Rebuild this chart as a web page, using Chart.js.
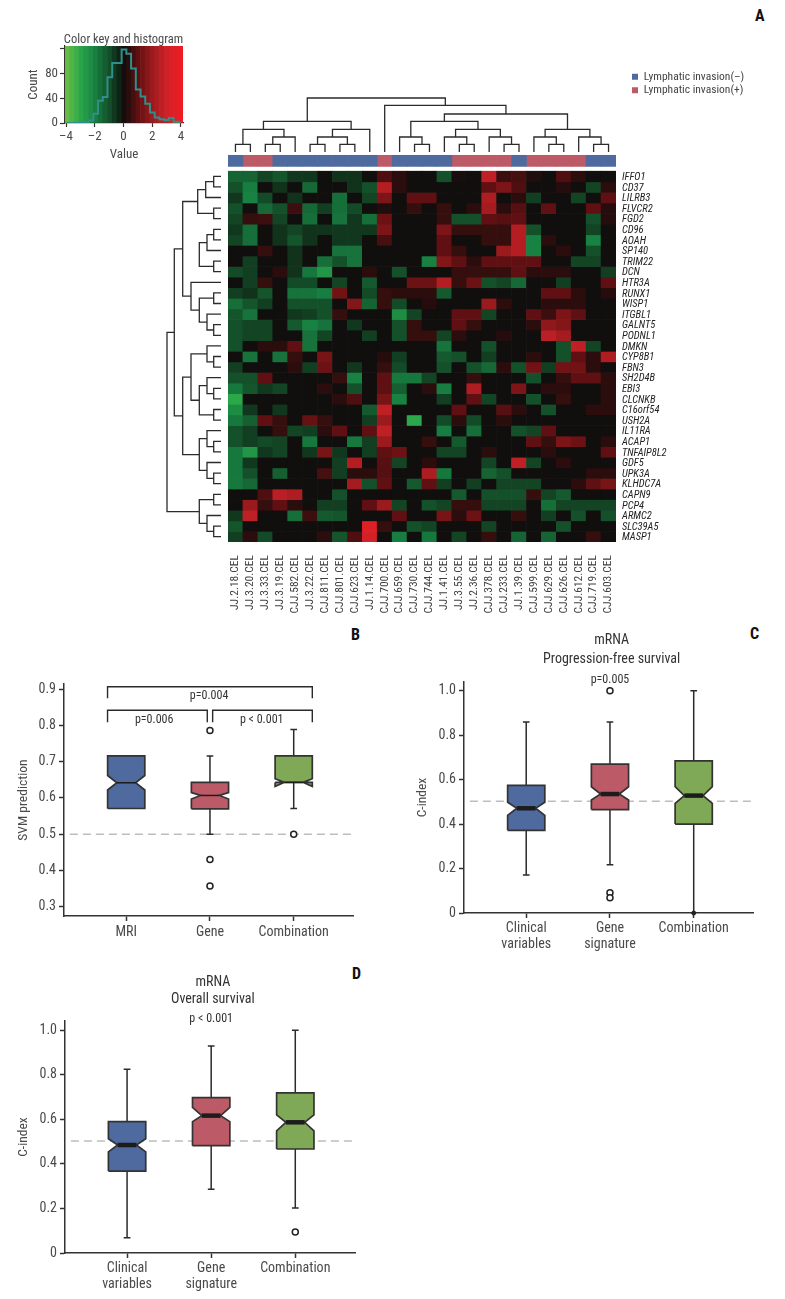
<!DOCTYPE html>
<html>
<head>
<meta charset="utf-8">
<style>
body { margin: 0; background: #fff; width: 785px; height: 1299px; position: relative; overflow: hidden; }
canvas { position: absolute; }
.tag { position: absolute; font: bold 16px "Roboto Condensed", "Liberation Sans", sans-serif; color: #111; }
</style>
<script src="https://cdn.jsdelivr.net/npm/chart.js@4"></script>
</head>
<body>
<div class="tag" style="left:755px;top:6px">A</div>
<div class="tag" style="left:351px;top:625px">B</div>
<div class="tag" style="left:750px;top:624px">C</div>
<div class="tag" style="left:352px;top:964px">D</div>
<canvas id="key" style="left:20px;top:28px"></canvas>
<canvas id="legend" style="left:630px;top:69px"></canvas>
<canvas id="topTree" style="left:228px;top:95px"></canvas>
<canvas id="sideTree" style="left:155px;top:171px"></canvas>
<canvas id="heat" style="left:228px;top:150px"></canvas>
<canvas id="panelB" style="left:16px;top:674px"></canvas>
<canvas id="panelC" style="left:415px;top:630px"></canvas>
<canvas id="panelD" style="left:16px;top:970px"></canvas>
<script>
//heatmap data, one row per gene, one value per sample
const samples = ["JJ.2.18.CEL","JJ.3.20.CEL","JJ.3.33.CEL","JJ.3.19.CEL","CJJ.582.CEL","JJ.3.22.CEL","CJJ.811.CEL","CJJ.801.CEL","CJJ.623.CEL","JJ.1.14.CEL","CJJ.700.CEL","CJJ.659.CEL","CJJ.730.CEL","CJJ.744.CEL","JJ.1.41.CEL","JJ.3.55.CEL","JJ.2.36.CEL","CJJ.378.CEL","CJJ.233.CEL","JJ.1.39.CEL","CJJ.599.CEL","CJJ.629.CEL","CJJ.626.CEL","CJJ.612.CEL","CJJ.719.CEL","CJJ.603.CEL"];
const genes = ["IFFO1","CD37","LILRB3","FLVCR2","FGD2","CD96","AOAH","SP140","TRIM22","DCN","HTR3A","RUNX1","WISP1","ITGBL1","GALNT5","PODNL1","DMKN","CYP8B1","FBN3","SH2D4B","EBI3","CLCNKB","C16orf54","USH2A","IL11RA","ACAP1","TNFAIP8L2","GDF5","UPK3A","KLHDC7A","CAPN9","PCP4","ARMC2","SLC39A5","MASP1"];
//0 = invasion(-), 1 = invasion(+)
const sampleGroup = [0,1,1,0,0,0,0,0,0,0,1,0,0,0,0,1,1,1,1,0,1,1,1,1,0,0];
const groupNames = ["Lymphatic invasion(–)","Lymphatic invasion(+)"];
const heatValues = [
[-1.4,-1.4,-.8,-1.1,-.6,-.6,0,-.5,-.5,0,.8,.4,0,0,-1,.1,0,2.7,.6,.7,.2,0,.8,.4,0,0],
[-1,-1.9,0,-.5,0,-1.5,0,0,-.5,-1,2.5,.4,0,0,0,0,0,1,1.5,.8,0,0,.3,0,-.8,.4],
[-.6,-2,-.9,0,-.5,0,0,-1.6,0,-.8,1.5,0,1,1,0,0,0,2.4,0,.4,-.7,0,0,-.8,0,1],
[-1,0,-1.5,-1,.6,-1.5,-.7,-1.6,-.9,0,.2,0,.5,0,.5,0,.4,2.2,.4,.9,0,1,0,0,1,.3],
[-.8,.5,.6,-.8,0,-1.6,0,-1.7,-.6,-1.6,1.2,0,0,0,.5,-1,-1,1,.9,1,0,0,0,0,-1,.3],
[-.6,-1.6,0,-.5,-.8,-.5,-.5,-.6,-.6,-.6,1.5,0,0,0,1.5,.5,.5,.5,.5,2.5,-1,0,0,0,-.8,0],
[-.8,-1.6,0,-.5,-1.1,-.5,0,-.6,-.6,0,.7,0,0,0,1,0,0,.5,.5,2.5,-2,.4,0,0,-2,0],
[0,0,.5,0,-.5,0,0,-1.7,-1.7,0,0,0,0,0,1,.5,0,0,2,2.5,-2,0,.4,0,-1,0],
[0,-.7,0,0,-.5,0,-1.6,-1,-1.7,0,0,0,0,-2,1.6,1,.4,1,1,1,1,0,0,-.8,-.8,0],
[-.9,-.7,0,.4,-.5,-1.8,-2.5,0,0,.4,0,-1,0,0,0,.5,.5,.5,.5,1,.4,.4,.4,0,0,-.7],
[0,-.7,.5,0,-.9,-.9,0,-.8,0,-1.2,0,0,1.2,1.2,2.5,.5,1.2,-1,-.8,-1.5,0,0,-.7,0,0,1],
[-.7,-.5,-1.1,0,-1.7,-1.7,-1.9,1.3,0,-.9,.5,.4,.4,.4,-1.2,0,0,0,0,0,0,1,1,.4,0,.3],
[-1.6,-1.1,-.7,0,-1,-1,-1,0,1.6,-1.4,.5,-.9,0,.3,0,0,0,2,.4,0,0,.4,.4,.4,0,0],
[-1.1,-1.7,0,0,-.6,-.7,-1,.5,0,0,0,-2.3,-.8,0,0,1,1,-.8,0,0,1,.6,1.5,1,0,0],
[-1,-.8,-.8,0,-1.2,-2,-1.7,0,-.6,0,0,-1,.5,0,0,1,.5,0,0,0,.4,1.8,1.6,0,0,0],
[-1,-.8,-.8,0,0,-1.7,-.8,0,0,-.7,0,-1,.5,.5,-.8,.4,0,0,.3,0,0,2.6,2.2,0,0,0],
[-1,0,.4,.4,1,-1.7,0,0,0,0,0,0,0,0,-1.7,0,0,-1,0,0,0,0,-1,2.7,-.8,0],
[0,-1.7,0,-1.7,.5,0,1.4,0,0,0,.3,-.7,0,0,-1.2,-1,0,-.7,0,0,.4,0,-1,1,.4,2.4],
[-.7,0,0,0,.4,-.7,1.2,0,-.6,0,.5,-.9,0,0,-1,0,-1,-1.5,.4,-1,1.3,-.7,1.3,1.3,.4,0],
[-1,-1,1,0,0,0,0,.5,-2,0,1,-1.8,-1.8,-.8,0,0,.5,0,0,0,-1,0,.5,1,1,.4],
[-1.8,-1.1,-.6,-.8,0,0,.4,0,-1,0,1,-1.3,0,.4,-1.9,0,2.4,0,0,1.5,0,.4,.4,0,0,.4],
[-3,0,0,0,0,0,0,.4,.8,0,1.4,-2,0,0,-.7,0,1,-.8,0,0,-1,0,.5,0,0,.4],
[-2.3,-.6,0,-.6,0,0,0,0,0,-1.2,2.7,0,0,0,0,1,0,0,.9,.4,0,-1,0,0,.4,.4],
[-1.8,-1.3,1,.5,0,1.1,.5,0,0,-.7,2,0,-3,0,-.9,.4,-.9,0,.4,0,0,0,0,0,0,0],
[-1,-.7,0,.5,-.8,-.7,.4,1,0,1,2.7,0,0,0,-1.9,0,-1.6,0,0,-1,-.8,1,0,0,0,0],
[-1,-.7,-.9,-.8,0,-1.8,0,0,-1.8,-.7,2,0,0,.5,0,-1.2,0,0,0,0,1,.5,1.5,1.2,0,.4],
[-1.8,-2.5,-.6,-.8,0,-.6,1.4,-.6,0,-.7,1,1.2,0,0,-.8,-.8,0,.4,0,0,0,.4,0,0,0,1],
[-1.8,-.6,0,0,0,0,0,-.7,2.5,0,.9,-.8,0,.4,0,0,0,-.8,0,2.7,-.8,0,.4,0,0,0],
[-1.8,-1,0,-1.3,0,0,.7,-.7,.4,.4,.9,0,0,2.4,-1.8,0,0,-1.4,-1,0,0,0,0,0,.4,.4],
[-1.8,-1.5,0,0,0,0,0,0,2.2,-1,1,0,-1.2,1,-.7,0,-.7,0,-.8,-.8,-.8,0,0,.4,1,1.4],
[0,0,.8,2.6,2.4,0,0,-1,0,0,0,0,0,0,0,-1.2,0,-1,-1,-1,.5,-.8,-1.2,0,0,0],
[0,2,.5,1,.4,0,-.7,-.7,0,1,2,-.8,0,-1,-.8,.5,.5,-.8,-.8,-.8,0,-1.6,-.8,-.8,-.8,-.8],
[-.6,2.7,0,0,-1.6,.6,-1.2,-1.1,0,0,0,1,0,0,1.4,.4,1.2,0,0,.5,0,-.7,0,-1,0,-1],
[-1.1,0,0,0,0,0,0,0,0,3.5,.5,0,-1,-.8,0,0,0,-.8,0,0,0,0,-1,0,0,0],
[-.7,.4,-.9,0,0,0,.4,-1.1,.8,3.2,0,-1.9,0,-1.8,0,-.8,0,.5,0,-1.4,0,-1.4,0,0,.5,0]
];

//dendrograms, node = [height, left, right], a bare number is a column or row index
const sampleTree = [5.4,
  [3.07,[2.27,[.77,0,1],[1.5,[.77,2,3],4]],[2.27,[1.5,[.77,5,6],[.77,7,8]],9]],
  [4.67,10,[3.8,
    [3.07,[1.5,11,[.77,12,13]],[2.27,[1.5,14,[.77,15,16]],[1.5,17,[.77,18,19]]]],
    [2.27,[1.5,20,[.77,21,22]],[1.5,23,[.77,24,25]]]]]];
const geneTreeUpper = [3.83,[2.33,[1.53,[.73,0,1],2],[.73,3,4]],[3,10,[2.17,[.73,11,12],[1.4,13,[.73,14,15]]]]];
const geneTreeMiddle = [3.83,[3,[1.4,16,[.73,17,18]],[2.17,[1.4,19,[.73,20,21]],[.73,22,23]]],[2.17,[1.4,24,[.73,25,26]],[1.4,27,[.73,28,29]]]];
const geneTreeLower = [2.17,[.73,30,31],[1.4,32,[.73,33,34]]];
const geneTree = [5.4,[4.67,geneTreeUpper,geneTreeMiddle],geneTreeLower];
//this branch hangs loose in the figure, no stem to the rest
const geneTreeLoose = [2.17,[1.4,[.73,5,6],7],[.73,8,9]];

//color key strips and histogram
const keyBins = [-3.906,-3.578,-3.249,-2.921,-2.592,-2.264,-1.936,-1.607,-1.279,-.95,-.622,-.294,.035,.363,.692,1.02,1.349,1.677,2.005,2.334,2.662,2.991,3.319,3.648,3.976];
const keyCounts = [0,0,0,.5,1,4,15,36,42,74,97,97,119,112,88,54,43,31,17,9,6,5,8,2,1];

//box plots, order is the three categories of each panel
const bLabels = ["MRI","Gene","Combination"];
const bWhiskLo = [.642,.5,.571];
const bQ1 = [.571,.57,.643];
const bNotchLo = [.622,.597,.632];
const bMedian = [.642,.607,.643];
const bNotchHi = [.662,.615,.653];
const bQ3 = [.716,.643,.716];
const bWhiskHi = [.716,.716,.789];
const bOutliers = [[],[.786,.43,.357],[.5]];
const bBrackets = [[.777,3.222,.907,.875],[.777,1.968,.842,.809],[2.032,3.222,.842,.809]];

const cLabels = [["Clinical","variables"],["Gene","signature"],"Combination"];
const cWhiskLo = [.171,.217,0];
const cQ1 = [.372,.465,.4];
const cNotchLo = [.439,.508,.493];
const cMedian = [.471,.535,.528];
const cNotchHi = [.498,.568,.568];
const cQ3 = [.574,.67,.684];
const cWhiskHi = [.859,.859,1];
const cOutliers = [[],[1,.091,.069],[]];
const cDots = [[],[],[0]];

const dLabels = [["Clinical","variables"],["Gene","signature"],"Combination"];
const dWhiskLo = [.069,.286,.202];
const dQ1 = [.368,.482,.467];
const dNotchLo = [.454,.59,.549];
const dMedian = [.485,.617,.587];
const dNotchHi = [.513,.654,.62];
const dQ3 = [.59,.698,.719];
const dWhiskHi = [.825,.93,1];
const dOutliers = [[],[],[.094]];

const narrow = '"Roboto Condensed", "Liberation Sans", sans-serif';
const blue = "#4f6a9e", red = "#bd5a67", green = "#7fa956";
const ink = "#333333", textGrey = "#4a4a4a";

Chart.defaults.animation = false;
Chart.defaults.responsive = false;
Chart.defaults.font.family = narrow;
Chart.defaults.layout.autoPadding = false;
Chart.defaults.plugins.legend.display = false;
Chart.defaults.plugins.tooltip.enabled = false;

function size(id, w, h){
    const c = document.getElementById(id);
    c.width = w;
    c.height = h;
    return c;
}

//pin an axis to a fixed thickness and drop the label overhang, so the plot area lands where it should
function pin(s, w, h){
    if(w !== null) s.width = w;
    if(h !== null) s.height = h;
    s.paddingTop = 0;
    s.paddingBottom = 0;
    s.paddingLeft = 0;
    s.paddingRight = 0;
}

//value to color, same ramp as the key
const rampStops = [-4,-3,-2,-1,-.4,0,.4,1,2,3,4];
const rampColors = [[108,189,69],[43,168,74],[24,130,66],[20,80,42],[16,44,24],[17,14,14],[44,13,13],[96,16,18],[154,26,29],[205,34,40],[237,28,36]];
function ramp(v){
    let i = 0;
    while(i < rampStops.length - 2 && v > rampStops[i+1]) i++;
    let t = (v - rampStops[i])/(rampStops[i+1] - rampStops[i]);
    t = Math.min(1, Math.max(0, t));
    const c = rampColors[i].map((a, k) => Math.round(a + (rampColors[i+1][k] - a)*t));
    return "rgb(" + c.join(",") + ")";
}

//text tied to data coordinates
const notePlugin = {
    id: "notes",
    afterDraw(chart, args, opts){
        const ctx = chart.ctx;
        ctx.save();
        ctx.textAlign = "center";
        ctx.textBaseline = "middle";
        for(const n of opts.items || []){
            ctx.font = n.font;
            ctx.fillStyle = n.color;
            ctx.fillText(n.text, chart.scales.x.getPixelForValue(n.x), chart.scales.y.getPixelForValue(n.y));
        }
        ctx.restore();
    }
};

//legend only chart
size("legend", 130, 34);
new Chart("legend", {
    type: "bar",
    data: {
        labels: [],
        datasets: [
            {label: groupNames[0], data: [], backgroundColor: blue},
            {label: groupNames[1], data: [], backgroundColor: red}
        ]
    },
    options: {
        scales: {x: {display: false}, y: {display: false}},
        plugins: {
            legend: {
                display: true,
                position: "left",
                align: "start",
                maxWidth: 130,
                labels: {boxWidth: 6, boxHeight: 6, padding: 2, color: "#444", font: {size: 11.5}}
            }
        }
    }
});

//color key
size("key", 172, 135);
new Chart("key", {
    data: {
        datasets: [
            {
                type: "line",
                data: keyBins.map((x, i) => ({x: x, y: keyCounts[i]})),
                stepped: "middle",
                borderColor: "#2f8f8a",
                borderWidth: 2,
                pointRadius: 0
            },
            {
                type: "bar",
                data: keyBins.map(x => ({x: x, y: [0, 124.5]})),
                backgroundColor: keyBins.map(ramp),
                categoryPercentage: 1,
                barPercentage: 1
            }
        ]
    },
    options: {
        layout: {padding: {top: 18, right: 9}},
        scales: {
            x: {
                type: "linear", offset: false, min: -4.07, max: 4.14,
                grid: {display: true, offset: false, drawOnChartArea: false, tickLength: 4, tickColor: ink, tickWidth: 1.2},
                border: {color: ink, width: 1.2},
                ticks: {stepSize: 2, includeBounds: false, maxRotation: 0, padding: 2, color: textGrey, font: {size: 13},
                    callback: v => v < 0 ? "–" + (-v) : "" + v},
                title: {display: true, text: "Value", color: textGrey, font: {size: 13}, padding: {top: 1, bottom: 0}},
                afterFit: s => pin(s, null, 40)
            },
            y: {
                min: 0, max: 124.5,
                grid: {display: true, drawOnChartArea: false, tickLength: 5, tickColor: ink, tickWidth: 1.2},
                border: {color: ink, width: 1.2},
                ticks: {stepSize: 20, includeBounds: false, minRotation: 0, maxRotation: 0, padding: 2, color: textGrey, font: {size: 13},
                    callback: v => (v % 40 === 0 && v < 120) ? "" + v : ""},
                title: {display: true, text: "Count", color: textGrey, font: {size: 13}, padding: {top: 6, bottom: 0}},
                afterFit: s => pin(s, 45, null)
            }
        },
        plugins: {
            notes: {items: [{text: "Color key and histogram", x: 0, y: 135, font: "12.5px " + narrow, color: textGrey}]}
        }
    },
    plugins: [notePlugin]
});

//walk a tree, returns line points with gaps between the links
function treePoints(node, out, flip){
    if(typeof node === "number") return {pos: node + .5, h: 0};
    const a = treePoints(node[1], out, flip);
    const b = treePoints(node[2], out, flip);
    const link = [[a.pos, a.h],[a.pos, node[0]],[b.pos, node[0]],[b.pos, b.h]];
    for(const p of link) out.push(flip ? {x: p[1], y: p[0]} : {x: p[0], y: p[1]});
    out.push({x: null, y: null});
    return {pos: (a.pos + b.pos)/2, h: node[0]};
}
function treeDataset(trees, flip){
    const out = [];
    for(const t of trees) treePoints(t, out, flip);
    return {data: out, showLine: true, spanGaps: false, borderColor: "#2b2b2b", borderWidth: 1.3, pointRadius: 0, clip: false};
}

size("topTree", 388, 57);
new Chart("topTree", {
    type: "scatter",
    data: {datasets: [treeDataset([sampleTree], false)]},
    options: {scales: {
        x: {type: "linear", min: 0, max: samples.length, display: false},
        y: {type: "linear", min: 0, max: 5.7, display: false}
    }}
});

size("sideTree", 66, 371);
new Chart("sideTree", {
    type: "scatter",
    data: {datasets: [treeDataset([geneTree, geneTreeLoose], true)]},
    options: {scales: {
        x: {type: "linear", min: 0, max: 6.6, reverse: true, display: false},
        y: {type: "linear", min: 0, max: genes.length, reverse: true, display: false}
    }}
});

//heatmap, floating bars, two blank rows above for the annotation strip
const heatSets = genes.map((g, r) => ({
    label: g,
    data: samples.map(() => [r, r + 1]),
    backgroundColor: heatValues[r].map(ramp)
}));
heatSets.push({data: samples.map((s, c) => sampleGroup[c] === 0 ? [-1.5, -.45] : null), backgroundColor: blue});
heatSets.push({data: samples.map((s, c) => sampleGroup[c] === 1 ? [-1.5, -.45] : null), backgroundColor: red});
size("heat", 448, 470);
new Chart("heat", {
    type: "bar",
    data: {labels: samples, datasets: heatSets},
    options: {
        datasets: {bar: {grouped: false, categoryPercentage: 1, barPercentage: 1}},
        scales: {
            x: {
                grid: {display: false}, border: {display: false},
                ticks: {autoSkip: false, minRotation: 90, maxRotation: 90, padding: 5, color: "#404040", font: {size: 11.5}},
                afterFit: s => pin(s, null, 78)
            },
            y: {type: "linear", min: -2, max: genes.length, reverse: true, display: false},
            y2: {
                type: "category", position: "right", offset: true,
                labels: ["",""].concat(genes),
                grid: {display: false, drawTicks: false}, border: {display: false},
                ticks: {autoSkip: false, padding: 6, labelOffset: 1, color: "#222", font: {size: 10.5, style: "italic"}},
                afterFit: s => pin(s, 60, null)
            }
        }
    }
});

//one notched box panel
function boxPanel(id, p){
    const half = .222, inner = .112, cap = .04;
    const outlierPts = [], dotPts = [], whisk = [];
    const boxes = [], medians = [];
    p.labels.forEach((l, i) => {
        const x = i + 1;
        (p.outliers[i] || []).forEach(v => outlierPts.push({x: x, y: v}));
        ((p.dots || [])[i] || []).forEach(v => dotPts.push({x: x, y: v}));
        whisk.push({x: x - cap, y: p.whiskLo[i]},{x: x + cap, y: p.whiskLo[i]},{x: null, y: null},
            {x: x, y: p.whiskLo[i]},{x: x, y: p.q1[i]},{x: null, y: null},
            {x: x, y: p.q3[i]},{x: x, y: p.whiskHi[i]},{x: null, y: null},
            {x: x - cap, y: p.whiskHi[i]},{x: x + cap, y: p.whiskHi[i]},{x: null, y: null});
        boxes.push({
            data: [
                {x: x - half, y: p.q1[i]},{x: x - half, y: p.notchLo[i]},{x: x - inner, y: p.median[i]},
                {x: x - half, y: p.notchHi[i]},{x: x - half, y: p.q3[i]},{x: x + half, y: p.q3[i]},
                {x: x + half, y: p.notchHi[i]},{x: x + inner, y: p.median[i]},{x: x + half, y: p.notchLo[i]},
                {x: x + half, y: p.q1[i]},{x: x - half, y: p.q1[i]}
            ],
            showLine: true, fill: "shape", backgroundColor: p.colors[i], borderColor: ink, borderWidth: 1.7,
            borderJoinStyle: "miter", pointRadius: 0
        });
        medians.push({
            data: [{x: x - inner, y: p.median[i]},{x: x + inner, y: p.median[i]}],
            showLine: true, borderColor: "#1c1c1c", borderWidth: p.medianWidth, pointRadius: 0
        });
    });
    const sets = [
        {data: outlierPts, pointRadius: 3, pointBackgroundColor: "#fff", pointBorderColor: "#222", pointBorderWidth: 1.5, clip: false},
        {data: dotPts, pointRadius: 2, pointBackgroundColor: "#222", pointBorderColor: "#222", clip: false}
    ].concat(medians, boxes, [
        {data: whisk, showLine: true, spanGaps: false, borderColor: "#2b2b2b", borderWidth: 1.5, pointRadius: 0},
        {data: [{x: p.xMin + .07, y: p.dash},{x: p.xMax, y: p.dash}], showLine: true, borderColor: "#bdbdbd", borderWidth: 1.5, borderDash: [8, 5], pointRadius: 0}
    ]);
    if(p.brackets){
        const pts = [];
        for(const b of p.brackets) pts.push({x: b[0], y: b[3]},{x: b[0], y: b[2]},{x: b[1], y: b[2]},{x: b[1], y: b[3]},{x: null, y: null});
        sets.push({data: pts, showLine: true, spanGaps: false, borderColor: "#2b2b2b", borderWidth: 1.4, pointRadius: 0, clip: false});
    }
    size(id, p.w, p.h);
    new Chart(id, {
        type: "scatter",
        data: {datasets: sets},
        options: {
            layout: {padding: {top: p.padTop, right: 7}},
            scales: {
                x: {
                    type: "linear", min: p.xMin, max: p.xMax,
                    grid: {display: true, drawOnChartArea: false, tickLength: 5, tickColor: ink, tickWidth: 1.5},
                    border: {color: ink, width: 1.5},
                    ticks: {stepSize: 1, includeBounds: false, maxRotation: 0, padding: p.tickPad, color: textGrey,
                        font: {size: 14, lineHeight: 1.15}, callback: v => p.labels[v - 1]},
                    afterFit: s => pin(s, null, p.xHeight)
                },
                y: {
                    min: p.yMin, max: p.yMax,
                    grid: {display: true, drawOnChartArea: false, tickLength: 5, tickColor: ink, tickWidth: 1.5},
                    border: {color: ink, width: 1.5},
                    ticks: {stepSize: p.step, includeBounds: false, padding: 3, color: textGrey, font: {size: 14},
                        callback: v => Math.abs(v) < 1e-9 ? "0" : v.toFixed(1)},
                    title: {display: true, text: p.yTitle, color: textGrey, font: {size: 13.5}, padding: {top: p.titlePad, bottom: 0}},
                    afterFit: s => pin(s, p.yWidth, null)
                }
            },
            plugins: {notes: {items: p.notes}}
        },
        plugins: [notePlugin]
    });
}

const titleFont = "14px " + narrow, pFont = "12px " + narrow, noteInk = "#333";

boxPanel("panelB", {
    labels: bLabels, whiskLo: bWhiskLo, q1: bQ1, notchLo: bNotchLo, median: bMedian, notchHi: bNotchHi, q3: bQ3, whiskHi: bWhiskHi,
    outliers: bOutliers, brackets: bBrackets, colors: [blue, red, green], medianWidth: 1.5,
    w: 344, h: 268, padTop: 10, xHeight: 26, yWidth: 48, titlePad: 0, tickPad: 3,
    xMin: .257, xMax: 3.708, yMin: .2743, yMax: .9146, step: .1, dash: .5, yTitle: "SVM prediction",
    notes: [
        {text: "p=0.004", x: 1.99, y: .8815, font: pFont, color: noteInk},
        {text: "p=0.006", x: 1.334, y: .814, font: pFont, color: noteInk},
        {text: "p < 0.001", x: 2.618, y: .814, font: pFont, color: noteInk}
    ]
});

boxPanel("panelC", {
    labels: cLabels, whiskLo: cWhiskLo, q1: cQ1, notchLo: cNotchLo, median: cMedian, notchHi: cNotchHi, q3: cQ3, whiskHi: cWhiskHi,
    outliers: cOutliers, dots: cDots, colors: [blue, red, green], medianWidth: 4.5,
    w: 345, h: 323, padTop: 52, xHeight: 40, yWidth: 49, titlePad: 0, tickPad: 2,
    xMin: .257, xMax: 3.708, yMin: 0, yMax: 1.039, step: .2, dash: .503, yTitle: "C-index",
    notes: [
        {text: "mRNA", x: 2.02, y: 1.2236, font: titleFont, color: noteInk},
        {text: "Progression-free survival", x: 2.02, y: 1.138, font: titleFont, color: noteInk},
        {text: "p=0.005", x: 2, y: 1.048, font: pFont, color: noteInk}
    ]
});

boxPanel("panelD", {
    labels: dLabels, whiskLo: dWhiskLo, q1: dQ1, notchLo: dNotchLo, median: dMedian, notchHi: dNotchHi, q3: dQ3, whiskHi: dWhiskHi,
    outliers: dOutliers, colors: [blue, red, green], medianWidth: 4.5,
    w: 346, h: 325, padTop: 51, xHeight: 42, yWidth: 49, titlePad: 0, tickPad: 2,
    xMin: .262, xMax: 3.71, yMin: 0, yMax: 1.042, step: .2, dash: .503, yTitle: "C-index",
    notes: [
        {text: "mRNA", x: 2.02, y: 1.2155, font: titleFont, color: noteInk},
        {text: "Overall survival", x: 2.02, y: 1.139, font: titleFont, color: noteInk},
        {text: "p < 0.001", x: 2, y: 1.051, font: pFont, color: noteInk}
    ]
});
</script>
</body>
</html>
